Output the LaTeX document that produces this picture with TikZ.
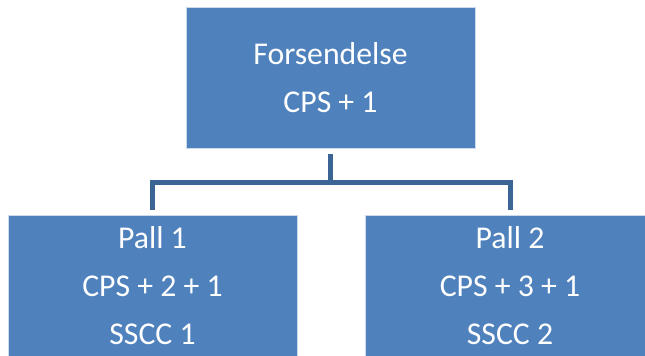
\documentclass[tikz,border=0pt]{standalone}
\usepackage{fontspec}
\setmainfont{Carlito}
\usepackage{xcolor}
\usepackage{tikz}
\usetikzlibrary{positioning,calc}

\definecolor{boxblue}{HTML}{4F81BD}
\definecolor{linkblue}{HTML}{3A6594}

\tikzset{
    unitbox/.style={rectangle, fill=boxblue, draw=white!70!boxblue, line width=0.5pt,
        minimum width=216.75pt, minimum height=105.75pt, inner sep=0pt,
        text=white, align=center, font=\fontsize{23.8pt}{36pt}\selectfont},
    link/.style={draw=linkblue, line width=3.75pt}
}

\begin{document}
\begin{tikzpicture}[x=0.75pt, y=0.75pt]
    \useasboundingbox (0,0) rectangle (645,-356);
    \clip (0,0) rectangle (645,-356);

    \node[unitbox] (forsendelse) at (330.5,-77.5) {Forsendelse\\CPS + 1};
    \node[unitbox] (pall1) at (152.5,-285.5) {Pall 1\\CPS + 2 + 1\\SSCC 1};
    \node[unitbox] (pall2) at (510,-285.5) {Pall 2\\CPS + 3 + 1\\SSCC 2};

    % lines from the shipment down to each pallet
    \coordinate (bus) at ($(forsendelse.south)+(0,-34)$);
    \draw[link] ($(forsendelse.south)+(0,-6)$) -- (bus) -| ($(pall1.north)+(0,5)$);
    \draw[link] (bus) -| ($(pall2.north)+(0,5)$);
\end{tikzpicture}
\end{document}
